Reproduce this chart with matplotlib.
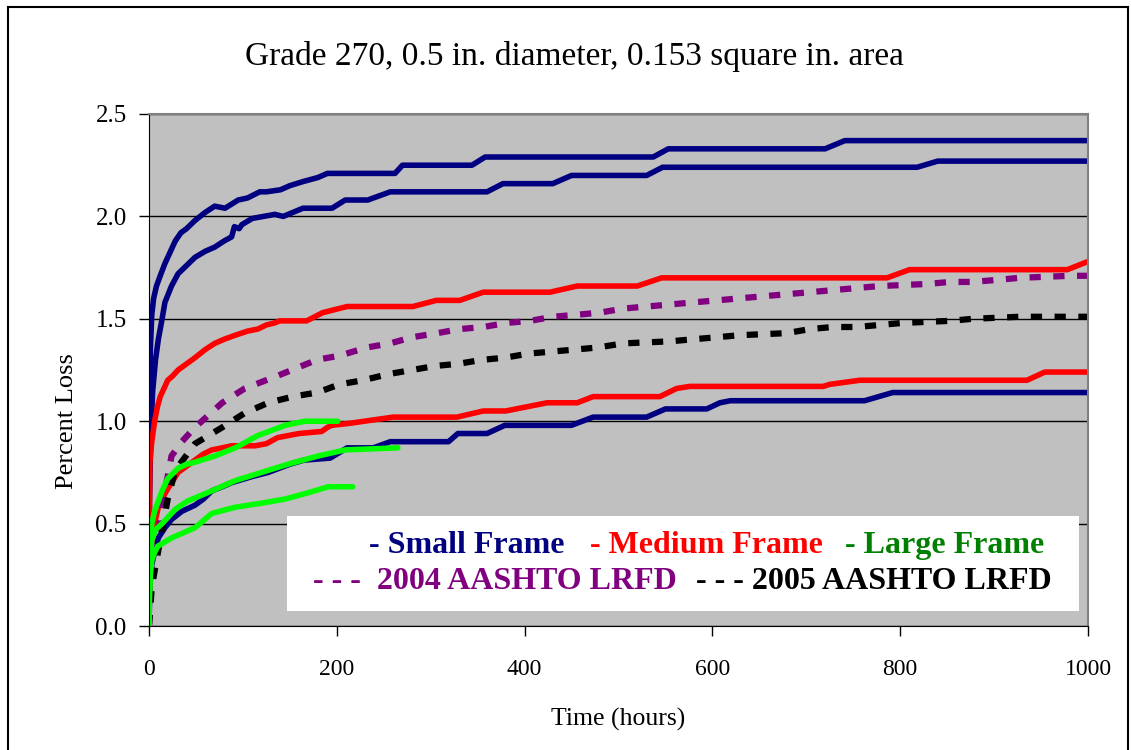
import matplotlib
matplotlib.use("Agg")
import matplotlib.pyplot as plt
from matplotlib.patches import Rectangle
from matplotlib.lines import Line2D
from matplotlib.ticker import FormatStrFormatter

plt.rcParams['font.family'] = ['Liberation Serif', 'DejaVu Serif']

title = "Grade 270, 0.5 in. diameter, 0.153 square in. area"
x_label = "Time (hours)"
y_label = "Percent Loss"

# small frame tests (navy)
small_a_t = [0, 0.5, 1.5, 3, 5, 8, 12, 17, 22, 28, 34, 40, 49, 60, 70, 81, 88, 95, 105, 118, 125,
             140, 150, 164, 180, 190, 262, 270, 344, 358, 537, 553, 720, 741, 1000]
small_a_y = [0, 0.9, 1.35, 1.52, 1.6, 1.66, 1.71, 1.77, 1.82, 1.88, 1.92, 1.94, 1.98, 2.02, 2.05,
             2.04, 2.06, 2.08, 2.09, 2.12, 2.12, 2.13, 2.15, 2.17, 2.19, 2.21, 2.21, 2.25, 2.25,
             2.29, 2.29, 2.33, 2.33, 2.37, 2.37]
small_b_t = [0, 0.5, 2, 4, 7, 10, 14, 17, 24, 31, 40, 49, 60, 70, 80, 88, 91, 96, 99, 110,
             134, 143, 164, 195, 209, 233, 257, 360, 377, 430, 450, 530, 547, 818, 840, 1000]
small_b_y = [0, 0.6, 0.95, 1.15, 1.3, 1.4, 1.5, 1.58, 1.66, 1.72, 1.76, 1.8, 1.83, 1.85, 1.88,
             1.9, 1.95, 1.94, 1.96, 1.99, 2.01, 2.0, 2.04, 2.04, 2.08, 2.08, 2.12, 2.12,
             2.16, 2.16, 2.2, 2.2, 2.24, 2.24, 2.27, 2.27]
small_c_t = [0, 1, 3, 6, 10, 17, 24, 35, 49, 58, 67, 78, 88, 110, 127, 150, 165, 193, 211, 239,
             257, 319, 329, 360, 379, 450, 473, 530, 550, 594, 608, 619, 762, 792, 1000]
small_c_y = [0, 0.2, 0.3, 0.36, 0.43, 0.48, 0.52, 0.56, 0.59, 0.62, 0.66, 0.68, 0.7, 0.73, 0.75,
             0.79, 0.81, 0.82, 0.87, 0.87, 0.9, 0.9, 0.94, 0.94, 0.98, 0.98, 1.02, 1.02, 1.06,
             1.06, 1.09, 1.1, 1.1, 1.14, 1.14]

# medium frame tests (red)
med_a_t = [0, 0.3, 1, 3, 6, 9, 12, 20, 25, 31, 40, 49, 60, 70, 80, 92, 105, 116, 125, 134, 139,
           168, 185, 211, 281, 306, 331, 356, 427, 456, 520, 546, 786, 810, 978, 1000]
med_a_y = [0, 0.45, 0.8, 0.9, 1.0, 1.07, 1.12, 1.2, 1.22, 1.25, 1.28, 1.31, 1.35, 1.38, 1.4,
           1.42, 1.44, 1.45, 1.47, 1.48, 1.49, 1.49, 1.53, 1.56, 1.56, 1.59, 1.59, 1.63, 1.63,
           1.66, 1.66, 1.7, 1.7, 1.74, 1.74, 1.78]
med_b_t = [0, 1, 3, 6, 10, 15, 20, 31, 40, 49, 58, 67, 78, 88, 113, 125, 137, 160, 184, 190,
           195, 214, 260, 328, 356, 380, 424, 456, 473, 544, 562, 576, 718, 725, 757, 935, 954,
           1000]
med_b_y = [0, 0.3, 0.42, 0.5, 0.58, 0.63, 0.67, 0.75, 0.78, 0.81, 0.84, 0.86, 0.87, 0.88, 0.88,
           0.89, 0.92, 0.94, 0.95, 0.97, 0.98, 0.99, 1.02, 1.02, 1.05, 1.05, 1.09, 1.09, 1.12,
           1.12, 1.16, 1.17, 1.17, 1.18, 1.2, 1.2, 1.24, 1.24]

# large frame tests (green)
large_a_t = [0, 0.5, 1.5, 3, 6, 10, 14, 20, 31, 40, 49, 70, 92, 116, 145, 166, 201]
large_a_y = [0, 0.2, 0.38, 0.5, 0.56, 0.61, 0.66, 0.72, 0.77, 0.79, 0.8, 0.83, 0.87, 0.93, 0.98,
             1.0, 1.0]
large_b_t = [0, 0.5, 1.5, 3, 7, 14, 28, 41, 67, 92, 120, 148, 180, 209, 265]
large_b_y = [0, 0.18, 0.3, 0.42, 0.47, 0.5, 0.57, 0.61, 0.66, 0.71, 0.75, 0.79, 0.83, 0.86, 0.87]
large_c_t = [0, 0.5, 1.5, 3, 6, 9.6, 24, 49, 67, 92, 120, 145, 169, 191, 217]
large_c_y = [0, 0.15, 0.25, 0.32, 0.36, 0.39, 0.43, 0.48, 0.55, 0.58, 0.6, 0.62, 0.65, 0.68, 0.68]

# code predictions (dashed)
aashto04_t = [0, 3, 9.6, 17, 24, 35, 49, 78, 102, 136, 179, 203, 232, 257, 280, 307, 331, 356,
              381, 406, 430, 456, 480, 505, 530, 555, 579, 605, 629, 654, 679, 704, 728, 778,
              828, 853, 877, 903, 927, 981, 1000]
aashto04_y = [0, 0.25, 0.45, 0.66, 0.83, 0.9, 0.97, 1.09, 1.16, 1.22, 1.3, 1.32, 1.36, 1.38,
              1.41, 1.43, 1.45, 1.46, 1.48, 1.49, 1.51, 1.52, 1.53, 1.55, 1.56, 1.57, 1.58,
              1.59, 1.6, 1.61, 1.62, 1.63, 1.64, 1.66, 1.67, 1.68, 1.68, 1.69, 1.7, 1.71, 1.71]
aashto05_t = [0, 3, 9.6, 20, 28, 49, 78, 102, 127, 153, 179, 203, 228, 255, 280, 305, 329, 355,
              379, 404, 429, 454, 478, 505, 555, 579, 605, 629, 679, 704, 728, 754, 778, 803,
              853, 877, 927, 956, 1000]
aashto05_y = [0, 0.19, 0.36, 0.62, 0.76, 0.89, 0.97, 1.04, 1.09, 1.12, 1.14, 1.18, 1.2, 1.23,
              1.25, 1.27, 1.28, 1.3, 1.31, 1.33, 1.34, 1.35, 1.36, 1.38, 1.39, 1.4, 1.41, 1.42,
              1.43, 1.45, 1.46, 1.46, 1.47, 1.48, 1.49, 1.5, 1.51, 1.51, 1.51]

navy = '#000080'
red = '#FF0000'
lime = '#00FF00'
purple = '#800080'

fig = plt.figure(figsize=(11.31, 7.5), dpi=100)
ax = fig.add_axes([0.1317, 0.1653, 0.8303, 0.6827])
ax.set_facecolor('#C0C0C0')

for t, y in [(small_a_t, small_a_y), (small_b_t, small_b_y), (small_c_t, small_c_y)]:
    ax.plot(t, y, color=navy, lw=4.0, solid_joinstyle='round')
for t, y in [(med_a_t, med_a_y), (med_b_t, med_b_y)]:
    ax.plot(t, y, color=red, lw=4.0, solid_joinstyle='round')

ax.plot(aashto04_t, aashto04_y, color=purple, lw=4.5, dashes=(1.8, 2.0), dash_capstyle='butt')
ax.plot(aashto05_t, aashto05_y, color='black', lw=4.5, dashes=(1.8, 2.0), dash_capstyle='butt')

for t, y in [(large_a_t, large_a_y), (large_b_t, large_b_y), (large_c_t, large_c_y)]:
    ax.plot(t, y, color=lime, lw=4.0, solid_joinstyle='round', solid_capstyle='round')

ax.set_xlim(0, 1000)
ax.set_ylim(0, 2.5)
ax.set_xticks([0, 200, 400, 600, 800, 1000])
ax.set_yticks([0, 0.5, 1.0, 1.5, 2.0, 2.5])
ax.yaxis.set_major_formatter(FormatStrFormatter('%.1f'))
ax.yaxis.grid(True, color='black', lw=1)
ax.set_axisbelow(True)
ax.tick_params(axis='x', direction='out', length=7, width=1, pad=17, labelsize=17)
ax.tick_params(axis='y', direction='out', length=7, width=1, pad=9, labelsize=18)
ax.spines['top'].set_color('#808080')
ax.spines['right'].set_color('#808080')
ax.spines['top'].set_linewidth(1.5)
ax.spines['right'].set_linewidth(1.5)

ax.set_xlabel(x_label, fontsize=18.5, labelpad=20)
ax.set_ylabel(y_label, fontsize=19)
ax.yaxis.set_label_coords(-0.076, 0.40)
fig.text(0.508, 0.924, title, fontsize=24, ha='center', va='center')

# custom legend box
ax.add_patch(Rectangle((0.147, 0.029), 0.843, 0.186, transform=ax.transAxes,
                       facecolor='white', edgecolor='none', zorder=5))
legend_font = dict(fontsize=23, fontweight='bold', va='center', ha='left',
                   transform=ax.transAxes, zorder=6)
ax.text(0.234, 0.158, "- Small Frame", color=navy, **legend_font)
ax.text(0.470, 0.158, "- Medium Frame", color=red, **legend_font)
ax.text(0.741, 0.158, "- Large Frame", color='#008000', **legend_font)
ax.text(0.175, 0.086, "- - -  2004 AASHTO LRFD", color=purple, **legend_font)
ax.text(0.583, 0.086, "- - - 2005 AASHTO LRFD", color='black', **legend_font)

# outer chart frame
fig.add_artist(Line2D([0.007, 0.007], [0.0, 0.991], color='black', lw=1.5))
fig.add_artist(Line2D([0.007, 0.997], [0.991, 0.991], color='black', lw=1.5))
fig.add_artist(Line2D([0.997, 0.997], [0.0, 0.991], color='black', lw=1.5))

fig.savefig("out.png", dpi=100)
